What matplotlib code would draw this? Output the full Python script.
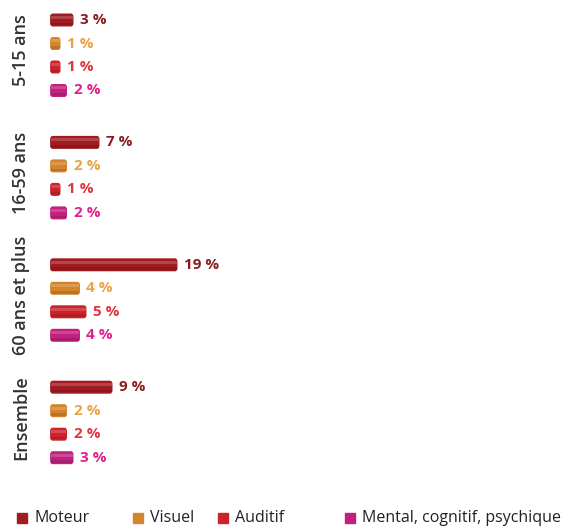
import matplotlib
matplotlib.use("Agg")
import matplotlib.pyplot as plt
from matplotlib.patches import FancyBboxPatch

groups = ["5-15 ans", "16-59 ans", "60 ans et plus", "Ensemble"]
series = ["Moteur", "Visuel", "Auditif", "Mental, cognitif, psychique"]
values = {
    "Moteur": [3, 7, 19, 9],
    "Visuel": [1, 2, 4, 2],
    "Auditif": [1, 1, 5, 2],
    "Mental, cognitif, psychique": [2, 2, 4, 3],
}
bar_colors = ["#a01c20", "#d4842a", "#cc2229", "#c2207f"]
label_colors = ["#8e1a1c", "#eaa245", "#e2343c", "#e0208c"]

W, H = 564, 530
fig = plt.figure(figsize=(W / 100, H / 100), dpi=100)
ax = fig.add_axes([0, 0, 1, 1])
px = 6.5  # pixels per percent
x0 = 54
ax.set_xlim(-x0 / px, (W - x0) / px)
ax.set_ylim(H, 0)
ax.axis("off")

font = "Open Sans"
bar_h = 13
cap = 0.6  # rounded cap length (layout)
for i, g in enumerate(groups):
    gy = 20 + 122.4 * i
    for j, s in enumerate(series):
        y = gy + 23.5 * j
        v = values[s][i]
        bars = ax.barh(y, v, height=bar_h, color=bar_colors[j], edgecolor="none")
        bars[0].set_visible(False)
        rect = FancyBboxPatch((-cap, y - bar_h / 2), v + cap, bar_h,
                              boxstyle="round,pad=0,rounding_size=0.4",
                              mutation_aspect=8.0,
                              facecolor=bar_colors[j], edgecolor="none")
        ax.add_patch(rect)
        ax.barh(y - bar_h * 0.2, v + cap - 0.3, left=-cap + 0.15, height=bar_h * 0.22,
                color="white", alpha=0.18, edgecolor="none")
        ax.barh(y + bar_h * 0.3, v + cap - 0.2, left=-cap + 0.1, height=bar_h * 0.2,
                color="black", alpha=0.12, edgecolor="none")
        ax.text(v + 1.0, y, f"{v} %", color=label_colors[j], fontsize=11,
                fontweight="bold", family=font, va="center", ha="left")
    ymid = gy + 23.5 * 1.5 - 5
    ax.text(-(x0 - 21) / px, ymid, g, rotation=90, ha="center", va="center",
            fontsize=13, fontweight="semibold", family=font, color="#333333")

# legend
leg_marker_x = [22, 138, 223, 350]
leg_y = 518
for c, s, mx in zip(bar_colors, series, leg_marker_x):
    fig.lines.append(plt.Line2D([mx / W], [1 - leg_y / H], marker="s",
                                markersize=7.5, markerfacecolor=c,
                                markeredgecolor=c, linestyle="none",
                                transform=fig.transFigure, figure=fig))
    fig.text((mx + 12) / W, 1 - leg_y / H, s, ha="left", va="center",
             fontsize=11.5, family=font, color="#222222")

fig.savefig("out.png", dpi=100)
